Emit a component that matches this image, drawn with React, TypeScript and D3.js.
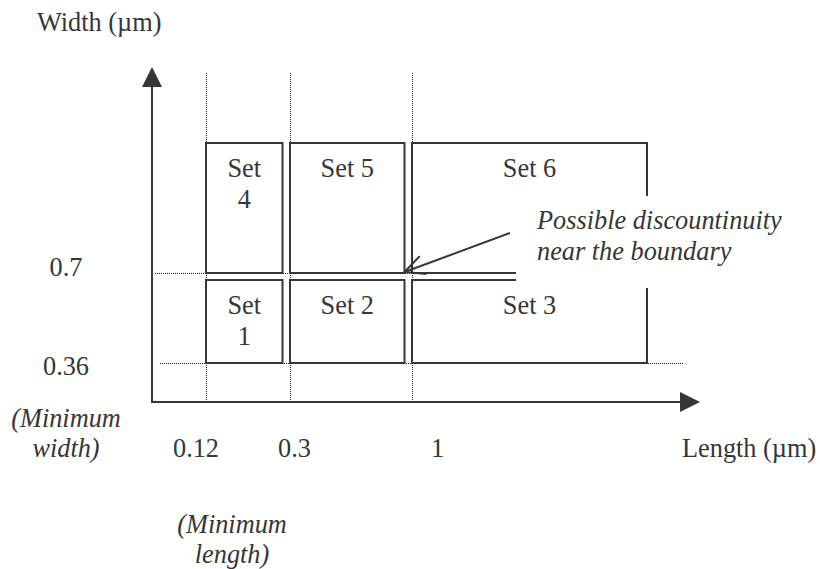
import * as d3 from "d3";

// schematic upper bounds for the open-ended sets
const LENGTH_MAX = 3;
const WIDTH_MAX = 1.2;

const lengthBreaks = [0.12, 0.3, 1];
const lengthTickLabels = ["0.12", "0.3", "1"];
const widthBreaks = [0.36, 0.7];
const widthTickLabels = ["0.36", "0.7"];

const setNames = ["Set 1", "Set 2", "Set 3", "Set 4", "Set 5", "Set 6"];
const setLengthLo = [0.12, 0.3, 1, 0.12, 0.3, 1];
const setLengthHi = [0.3, 1, LENGTH_MAX, 0.3, 1, LENGTH_MAX];
const setWidthLo = [0.36, 0.36, 0.36, 0.7, 0.7, 0.7];
const setWidthHi = [0.7, 0.7, 0.7, WIDTH_MAX, WIDTH_MAX, WIDTH_MAX];

const W = 820;
const H = 569;
const INK = "#363636";
const FONT = "'Liberation Serif', 'Times New Roman', serif";
const FS = 28;
const SX = 0.94; // the source figure's text is a little narrow
const GAP_X = 7.5;
const GAP_Y = 7;

// piecewise scales: the figure is a schematic, not to scale
const x = d3.scaleLinear().domain([0, 0.12, 0.3, 1, LENGTH_MAX]).range([152, 206, 290, 412, 647]);
const y = d3.scaleLinear().domain([0, 0.36, 0.7, WIDTH_MAX]).range([402, 363, 273, 143]);

// label nudges (the original labels sit loosely next to their guides)
const xTickDx = [-10, 4.5, 25.5];
const yTickDy = [12, 3];

function arrowHead(tipX, tipY, dx, dy, len, half) {
    // filled triangle pointing along (dx, dy)
    const bx = tipX - dx * len, by = tipY - dy * len;
    const px = -dy * half, py = dx * half;
    return `M${tipX},${tipY}L${bx + px},${by + py}L${bx - px},${by - py}Z`;
}

function Label({ x, y, lines, anchor = "start", italic = false, lh = 30 }) {
    return (
        <text transform={`translate(${x},${y}) scale(${SX},1)`} textAnchor={anchor}
            fontStyle={italic ? "italic" : "normal"}>
            {lines.map((l, i) => (
                <tspan key={i} x={0} y={i * lh}>{l}</tspan>
            ))}
        </text>
    );
}

export default function App() {
    const x0 = x(0), y0 = y(0);
    const xAxisEnd = 700;
    const yAxisEnd = 67;

    // annotation arrow
    const a0 = [510, 233];
    const tip = [x(1) - GAP_X, y(0.7) - 1];
    const ang = Math.atan2(a0[1] - tip[1], a0[0] - tip[0]);
    const armLen = 22;
    const arm = (off) => [tip[0] + armLen * Math.cos(ang + off), tip[1] + armLen * Math.sin(ang + off)];
    const armA = arm(-0.45), armB = arm(0.45);

    return (
        <svg width={W} height={H} style={{ position: "absolute", left: 0, top: 0, background: "#fff" }}
            fontFamily={FONT} fontSize={FS} fill={INK}>
            {/* dotted guides, snapped to the pixel grid so the dots stay dark */}
            <g stroke="#222" strokeWidth={1} strokeDasharray="1,1" fill="none">
                {lengthBreaks.map((v) => (
                    <line key={"v" + v} x1={Math.round(x(v)) + 0.5} x2={Math.round(x(v)) + 0.5} y1={73} y2={y0} />
                ))}
                <line x1={155} x2={x(LENGTH_MAX)} y1={y(0.7) + 0.5} y2={y(0.7) + 0.5} />
                <line x1={160} x2={684} y1={y(0.36) + 0.5} y2={y(0.36) + 0.5} />
            </g>

            {/* set boxes */}
            {setNames.map((name, i) => {
                const bx0 = x(setLengthLo[i]);
                const bx1 = x(setLengthHi[i]) - (setLengthHi[i] < LENGTH_MAX ? GAP_X : 0);
                const by0 = y(setWidthHi[i]) + (setWidthHi[i] < WIDTH_MAX ? GAP_Y : 0);
                const by1 = y(setWidthLo[i]);
                const cx = (bx0 + bx1) / 2;
                const narrow = bx1 - bx0 < 100;
                return (
                    <g key={name}>
                        <rect x={bx0} y={by0} width={bx1 - bx0} height={by1 - by0} fill="none" stroke={INK} strokeWidth={2} />
                        <Label x={cx} y={by0 + 34} anchor="middle" lh={31}
                            lines={narrow ? name.split(" ") : [name]} />
                    </g>
                );
            })}

            {/* axes */}
            <g stroke={INK} strokeWidth={2}>
                <line x1={x0 - 1} x2={xAxisEnd - 20} y1={y0} y2={y0} />
                <line x1={x0} x2={x0} y1={y0 + 1} y2={yAxisEnd + 20} />
            </g>
            <path d={arrowHead(xAxisEnd, y0, 1, 0, 20, 10)} fill={INK} />
            <path d={arrowHead(x0, yAxisEnd, 0, -1, 20, 10)} fill={INK} />

            {/* axis labels */}
            <Label x={37} y={31} lines={["Width (µm)"]} />
            <Label x={682} y={457} lines={["Length (µm)"]} />
            {lengthTickLabels.map((t, i) => (
                <Label key={t} x={x(lengthBreaks[i]) + xTickDx[i]} y={457} anchor="middle" lines={[t]} />
            ))}
            {widthTickLabels.map((t, i) => (
                <Label key={t} x={66} y={y(widthBreaks[i]) + yTickDy[i]} anchor="middle" lines={[t]} />
            ))}
            <Label x={66} y={427} anchor="middle" italic lines={["(Minimum", "width)"]} />
            <Label x={232} y={533} anchor="middle" italic lines={["(Minimum", "length)"]} />

            {/* annotation box */}
            <rect x={516} y={196} width={276} height={92} fill="#fff" stroke="none" />
            <Label x={537} y={229} italic lh={31} lines={["Possible discountinuity", "near the boundary"]} />
            <g stroke={INK} strokeWidth={2} fill="none">
                <line x1={a0[0]} y1={a0[1]} x2={tip[0]} y2={tip[1]} />
                <polyline points={`${armA[0]},${armA[1]} ${tip[0]},${tip[1]} ${armB[0]},${armB[1]}`} />
            </g>
        </svg>
    );
}
